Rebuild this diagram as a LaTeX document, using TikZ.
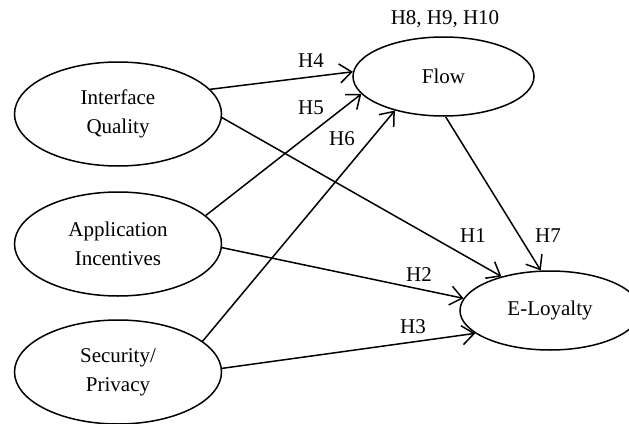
\documentclass[tikz,border=0pt]{standalone}
\usepackage{fontspec}
\setmainfont{Liberation Serif}
\usetikzlibrary{shapes.geometric,arrows.meta}
\begin{document}
\begin{tikzpicture}[x=1pt,y=-1pt,
  construct/.style={draw,ellipse,line width=1.5pt,inner sep=0pt,align=center,font=\fontsize{21}{29}\selectfont},
  wide/.style={minimum width=207pt,minimum height=104pt},
  narrow/.style={minimum width=181pt,minimum height=79pt},
  hyp/.style={font=\fontsize{21}{24}\selectfont,inner sep=0pt},
  link/.style={line width=1.5pt,-{Straight Barb[length=12pt,width=19pt,line width=1.5pt]}}]
\useasboundingbox (0,0) rectangle (629,423);
\node[construct,wide] (IQ) at (118,114) {Interface\\Quality};
\node[construct,wide] (AI) at (118,244) {Application\\Incentives};
\node[construct,wide] (SP) at (118,372) {Security/\\Privacy};
\node[construct,narrow] (FL) at (443.5,76.5) {Flow};
\node[construct,narrow,minimum width=180pt] (EL) at (550,310.5) {E-Loyalty};
\node[hyp] (h8) at (445,19) {H8, H9, H10};
\draw[link] (IQ.15.2) -- (FL.177.2);
\draw[link] (AI.18) -- (FL.-168.2);
\draw[link] (SP.20.9) -- (FL.215.2);
\draw[link] (IQ.-2.2) -- (EL.145.9);
\draw[link] (AI.-2.2) -- (EL.172.6);
\draw[link] (SP.2.8) -- (EL.197.6);
\draw[link] (FL.-87.8) -- (EL.103.2);
\node[hyp] (h4) at (311,61) {H4};
\node[hyp] (h5) at (311,108) {H5};
\node[hyp] (h6) at (342,139) {H6};
\node[hyp] (h1) at (473,236) {H1};
\node[hyp] (h7) at (548,236) {H7};
\node[hyp] (h2) at (419,275) {H2};
\node[hyp] (h3) at (413,327) {H3};
\end{tikzpicture}
\end{document}
